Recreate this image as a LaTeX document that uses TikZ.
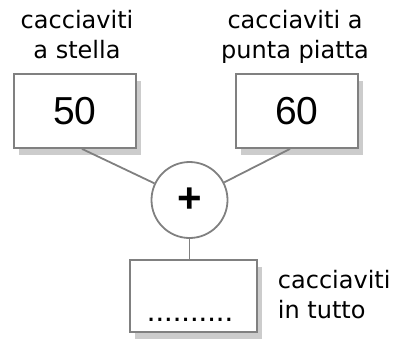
\documentclass[tikz,border=0pt]{standalone}
\usepackage{fontspec}
\setmainfont{DejaVu Sans}
\newfontfamily\numfont{Liberation Sans}
\usetikzlibrary{shadows}

\begin{document}
\begin{tikzpicture}[x = 1pt, y = -1pt, line width = 1.8pt,
                        box/.style = {rectangle, draw = black!50, fill = white, inner sep = 0pt,
                                      general shadow = {fill = black!20, shadow xshift = 5pt, shadow yshift = -7pt},
                                      font = \numfont\fontsize{39}{39}\selectfont},
                        sum/.style = {circle, draw = black!50, fill = white, minimum size = 76pt, inner sep = 0pt,
                                      font = \numfont\bfseries\fontsize{42}{42}\selectfont},
                        caption/.style = {inner sep = 0pt, font = \fontsize{24}{30}\selectfont}]
      \useasboundingbox (0, 0) rectangle (406, 341);

      \node [caption, align = center, anchor = base] (StarText) at (77, 58) {cacciaviti\\a stella};
      \node [caption, align = center, anchor = base] (FlatText) at (295, 58) {cacciaviti a\\punta piatta};
      \node [caption, align = left, anchor = base west] (TotalText) at (277, 318) {cacciaviti\\in tutto};

      \node [box, minimum width = 122pt, minimum height = 74pt] (Star) at (75, 111) {50};
      \node [box, minimum width = 122pt, minimum height = 74pt] (Flat) at (297, 111) {60};
      \node [sum] (Plus) at (189.5, 200) {+};
      \node [box, minimum width = 127pt, minimum height = 72pt] (Total) at (193.5, 296) {};
      \node [inner sep = 0pt, anchor = base, font = \numfont\fontsize{31}{31}\selectfont] (Dots) at (190, 321) {..........};

      \draw [black!50] ([xshift = 7pt]Star.south) -- (Plus);
      \draw [black!50] ([xshift = -7pt]Flat.south) -- (Plus);
      \draw [black!50] (Plus.south) -- (Plus.south |- Total.north);
      \end{tikzpicture}
\end{document}
